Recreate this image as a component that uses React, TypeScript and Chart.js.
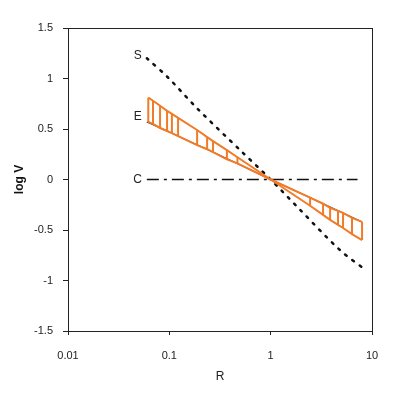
import React, { useEffect, useRef } from "react";
import { Chart, registerables } from "chart.js";

Chart.register(...registerables);

const xTicks = [0.01, 0.1, 1, 10];
const yTicks = [1.5, 1, 0.5, 0, -0.5, -1, -1.5];

const sR = [0.06, 0.097, 0.19, 0.5, 1, 1.95, 4.84, 8.5];
const sY = [1.2, 1.01, 0.7, 0.29, 0, -0.3, -0.7, -0.89];

const eR = [0.06, 0.1, 0.3, 1, 3, 8];
const eY = [0.57, 0.47, 0.25, 0, -0.22, -0.42];

const cR = [0.06, 7.2];
const cY = [0, 0];

const rungR = [0.062, 0.069, 0.081, 0.095, 0.106, 0.122, 0.188, 0.236, 0.27, 0.37, 0.47, 1, 2.45, 3.29, 3.86, 4.62, 5.18, 6.35, 7.98];
const outerY = [0.81, 0.78, 0.73, 0.68, 0.65, 0.61, 0.49, 0.42, 0.38, 0.29, 0.22, 0, -0.26, -0.35, -0.4, -0.45, -0.48, -0.54, -0.6];
const innerY = [0.57, 0.55, 0.51, 0.48, 0.46, 0.43, 0.34, 0.3, 0.27, 0.2, 0.16, 0, -0.18, -0.24, -0.28, -0.31, -0.33, -0.38, -0.42];

const curveLabels = ["S", "E", "C"];
const labelR = [0.05, 0.05, 0.05];
const labelY = [1.23, 0.62, 0];

const ORANGE = "#f07b28";

export default function App() {
  const ref = useRef<HTMLCanvasElement>(null);
  useEffect(() => {
    const toPts = (xs: number[], ys: number[]) => xs.map((x, i) => ({ x, y: ys[i] }));
    const rungPts: any[] = [];
    rungR.forEach((r, i) => {
      if (outerY[i] === innerY[i]) return;
      rungPts.push({ x: r, y: innerY[i] }, { x: r, y: outerY[i] }, { x: r, y: null });
    });
    const framePlugin = {
      id: "frame",
      afterDraw(chart: any) {
        const { ctx, chartArea: a, scales } = chart;
        ctx.save();
        ctx.strokeStyle = "#222";
        ctx.lineWidth = 1;
        ctx.strokeRect(a.left + 0.5, a.top + 0.5, a.right - a.left, a.bottom - a.top);
        ctx.fillStyle = "#222";
        ctx.font = "12px 'Liberation Sans', Arial, sans-serif";
        ctx.textAlign = "right";
        ctx.textBaseline = "middle";
        curveLabels.forEach((t, i) => {
          ctx.fillText(t, scales.x.getPixelForValue(labelR[i]) + 3, scales.y.getPixelForValue(labelY[i]));
        });
        ctx.restore();
      },
    };
    const chart = new Chart(ref.current!, {
      type: "line",
      data: {
        datasets: [
          { label: "outer", data: toPts(rungR, outerY), borderColor: ORANGE, borderWidth: 2, pointRadius: 0, tension: 0 },
          { label: "inner", data: toPts(rungR, innerY), borderColor: ORANGE, borderWidth: 2, pointRadius: 0, tension: 0 },
          { label: "rungs", data: rungPts, borderColor: ORANGE, borderWidth: 2, pointRadius: 0, spanGaps: false },
          { label: "E", data: toPts(eR, eY), borderColor: "#333a44", borderWidth: 1.2, pointRadius: 0 },
          { label: "S", data: toPts(sR, sY), borderColor: "#111", borderWidth: 2.5, borderDash: [2, 7], borderCapStyle: "round", pointRadius: 0, tension: 0.3 },
          { label: "C", data: toPts(cR, cY), borderColor: "#111", borderWidth: 1.5, borderDash: [12, 5, 3, 5], pointRadius: 0 },
        ] as any,
      },
      options: {
        animation: false,
        responsive: false,
        layout: { padding: { left: 0, right: 24, top: 28, bottom: 0 } },
        plugins: { legend: { display: false }, tooltip: { enabled: false } },
        scales: {
          x: {
            type: "logarithmic",
            min: 0.01,
            max: 10,
            afterBuildTicks: (s: any) => { s.ticks = xTicks.map((v) => ({ value: v })); },
            afterFit: (s: any) => { s.height = 65; },
            ticks: {
              callback: (v: any) => String(v),
              color: "#222",
              font: { family: "'Liberation Sans', Arial, sans-serif", size: 11 },
              padding: 14,
              maxRotation: 0,
              autoSkip: false,
            },
            grid: { drawOnChartArea: false, drawTicks: true, tickLength: 4, color: "#222" },
            border: { display: true, color: "#222" },
            title: { display: true, text: "R", color: "#222", font: { family: "'Liberation Sans', Arial, sans-serif", size: 12 }, padding: { top: 0, bottom: 12 } },
          },
          y: {
            type: "linear",
            min: -1.5,
            max: 1.5,
            afterBuildTicks: (s: any) => { s.ticks = yTicks.map((v) => ({ value: v })); },
            afterFit: (s: any) => { s.width = 68; },
            ticks: {
              callback: (v: any) => String(v),
              color: "#222",
              font: { family: "'Liberation Sans', Arial, sans-serif", size: 11 },
              padding: 10,
            },
            grid: { drawOnChartArea: false, drawTicks: true, tickLength: 5, color: "#222" },
            border: { display: true, color: "#222" },
            title: { display: true, text: "log V", color: "#111", font: { family: "'Liberation Sans', Arial, sans-serif", size: 12, weight: "bold" }, padding: { top: 12, bottom: 0 } },
          },
        },
      },
      plugins: [framePlugin],
    });
    return () => chart.destroy();
  }, []);
  return (
    <div style={{ position: "absolute", left: 0, top: 0, width: 396, height: 396, background: "#fff" }}>
      <canvas ref={ref} width={396} height={396} style={{ display: "block" }} />
    </div>
  );
}
